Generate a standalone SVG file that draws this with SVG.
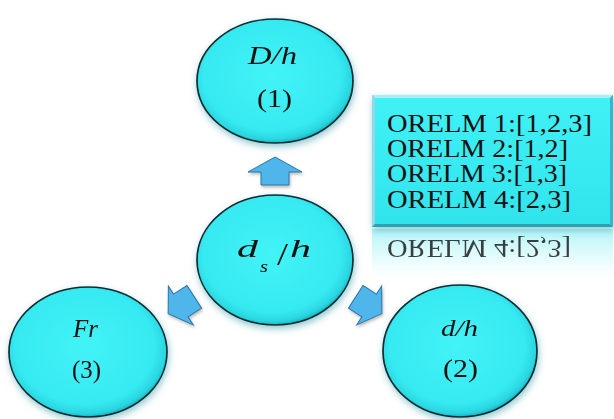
<svg xmlns="http://www.w3.org/2000/svg" width="614" height="419" viewBox="0 0 614 419">
  <defs>
    <style>
      .lbl { fill: #111111; }
      .node { fill: url(#gNode); stroke: #0b2b30; stroke-width: 1.7; }
      .arrow { fill: #4fb6ec; stroke: #2a76a6; stroke-width: 1; }
      .box { font-size: 26px; fill: #111111; }
    </style>
    <radialGradient id="gNode" cx="0.48" cy="0.46" r="0.55">
      <stop offset="0" stop-color="#42f3f7"/>
      <stop offset="0.8" stop-color="#36eaf1"/>
      <stop offset="0.93" stop-color="#2ad6e0"/>
      <stop offset="1" stop-color="#16a8b4"/>
    </radialGradient>
    <linearGradient id="gBox" x1="0" y1="0" x2="0" y2="1">
      <stop offset="0" stop-color="#40f1f6"/>
      <stop offset="1" stop-color="#31e4ec"/>
    </linearGradient>
    <linearGradient id="gRefl" x1="0" y1="0" x2="0" y2="1">
      <stop offset="0" stop-color="#a8f3f7" stop-opacity="0.9"/>
      <stop offset="0.55" stop-color="#d6fafc" stop-opacity="0.6"/>
      <stop offset="1" stop-color="#ffffff" stop-opacity="0"/>
    </linearGradient>
    <filter id="sh" x="-20%" y="-20%" width="140%" height="145%">
      <feGaussianBlur in="SourceAlpha" stdDeviation="3.5"/>
      <feOffset dx="1" dy="2.5" result="b"/>
      <feFlood flood-color="#3a9aa6" flood-opacity="0.55"/>
      <feComposite in2="b" operator="in"/>
      <feMerge><feMergeNode/><feMergeNode in="SourceGraphic"/></feMerge>
    </filter>
    <filter id="shA" x="-30%" y="-30%" width="160%" height="160%">
      <feGaussianBlur in="SourceAlpha" stdDeviation="1.5"/>
      <feOffset dx="1" dy="2" result="b"/>
      <feFlood flood-color="#555555" flood-opacity="0.4"/>
      <feComposite in2="b" operator="in"/>
      <feMerge><feMergeNode/><feMergeNode in="SourceGraphic"/></feMerge>
    </filter>
    <path id="arrD" d="M0,-15 L23,0 L13.5,0 L13.5,16 L-13.5,16 L-13.5,0 L-23,0 Z"/>
  </defs>

  <rect x="0" y="0" width="614" height="419" fill="#ffffff"/>

  <g id="connectors" filter="url(#shA)">
    <path class="arrow" d="M275,157 L302,172 L289,172 L289,185 L261,185 L261,172 L248,172 Z"/>
    <use href="#arrD" class="arrow" transform="translate(180.8,305.5) rotate(-122.7)"/>
    <use href="#arrD" class="arrow" transform="translate(369.2,305.5) rotate(122.7)"/>
  </g>

  <g font-family="Liberation Serif, Times New Roman, serif">
    <g id="node1">
      <ellipse class="node" cx="275" cy="81" rx="78" ry="62" filter="url(#sh)"/>
      <text class="lbl" font-style="italic" x="248" y="64" font-size="25" textLength="49" lengthAdjust="spacingAndGlyphs">D/h</text>
      <text class="lbl" x="257" y="107" font-size="26" textLength="35" lengthAdjust="spacingAndGlyphs">(1)</text>
    </g>

    <g id="node-center">
      <ellipse class="node" cx="275" cy="260" rx="78" ry="65" filter="url(#sh)"/>
      <text class="lbl" font-style="italic" x="237" y="257" font-size="25" textLength="21" lengthAdjust="spacingAndGlyphs">d</text>
      <text class="lbl" font-style="italic" x="260" y="272" font-size="17" textLength="8" lengthAdjust="spacingAndGlyphs">s</text>
      <text class="lbl" x="277" y="265" font-size="31" textLength="11" lengthAdjust="spacingAndGlyphs">/</text>
      <text class="lbl" font-style="italic" x="290" y="257" font-size="25" textLength="21" lengthAdjust="spacingAndGlyphs">h</text>
    </g>

    <g id="node3">
      <ellipse class="node" cx="88" cy="352" rx="79" ry="65" filter="url(#sh)"/>
      <text class="lbl" font-style="italic" x="73" y="337" font-size="25" textLength="25" lengthAdjust="spacingAndGlyphs">Fr</text>
      <text class="lbl" x="72" y="378" font-size="26" textLength="29" lengthAdjust="spacingAndGlyphs">(3)</text>
    </g>

    <g id="node2">
      <ellipse class="node" cx="460" cy="351" rx="77" ry="66" filter="url(#sh)"/>
      <text class="lbl" font-style="italic" x="441" y="336" font-size="24" textLength="37" lengthAdjust="spacingAndGlyphs">d/h</text>
      <text class="lbl" x="443" y="377" font-size="26" textLength="35" lengthAdjust="spacingAndGlyphs">(2)</text>
    </g>

    <g id="legend">
      <rect x="372" y="229" width="241" height="55" fill="url(#gRefl)"/>
      <text class="box" x="387" y="240" textLength="184" lengthAdjust="spacingAndGlyphs" transform="translate(0,480) scale(1,-1)" fill="#d6dddd" opacity="0.8">ORELM 4:[2,3]</text>
      <g filter="url(#sh)">
        <rect x="372" y="95" width="241" height="132" fill="#5fc4d8"/>
      </g>
      <polygon points="372,95 613,95 610,98 375,98" fill="#a8eef5"/>
      <polygon points="372,95 375,98 375,224 372,227" fill="#8ddbe8"/>
      <polygon points="372,227 375,224 610,224 613,227" fill="#2f9fb2"/>
      <polygon points="613,95 613,227 610,224 610,98" fill="#3bb4c6"/>
      <rect x="375" y="98" width="235" height="126" fill="url(#gBox)"/>
      <text class="box" x="387" y="132" textLength="205" lengthAdjust="spacingAndGlyphs">ORELM 1:[1,2,3]</text>
      <text class="box" x="387" y="157" textLength="181" lengthAdjust="spacingAndGlyphs">ORELM 2:[1,2]</text>
      <text class="box" x="387" y="182" textLength="180" lengthAdjust="spacingAndGlyphs">ORELM 3:[1,3]</text>
      <text class="box" x="387" y="208" textLength="184" lengthAdjust="spacingAndGlyphs">ORELM 4:[2,3]</text>
    </g>
  </g>
</svg>
